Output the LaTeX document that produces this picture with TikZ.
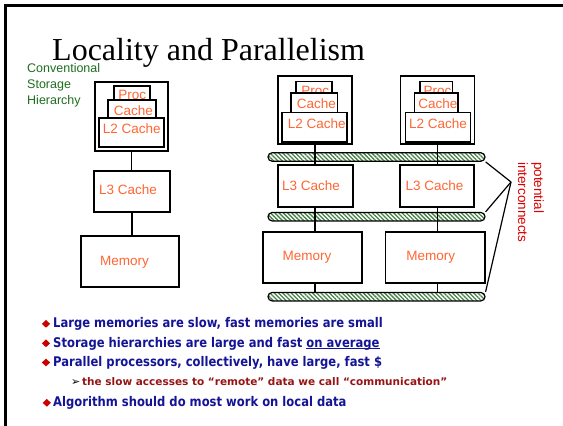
\documentclass[tikz,border=0pt]{standalone}
\usepackage{fontspec}
\setmainfont{Liberation Serif}
\newfontfamily\labelfont{Liberation Sans}
\newfontfamily\pointfont{DejaVu Sans}[FakeStretch=0.87]
\newfontfamily\notefont{DejaVu Sans}
\usetikzlibrary{patterns.meta,shapes.geometric}

\definecolor{cachetext}{RGB}{255,102,51}
\definecolor{hiergreen}{RGB}{30,110,30}
\definecolor{linkred}{RGB}{220,0,0}
\definecolor{pointblue}{RGB}{20,20,150}
\definecolor{bulletred}{RGB}{204,0,0}
\definecolor{notered}{RGB}{150,20,20}
\definecolor{hatch}{RGB}{70,130,70}

% underline sitting just below the baseline
\newcommand\avgline[1]{\leavevmode\setbox0\hbox{#1}\rlap{\rule[-1.9pt]{\wd0}{1.1pt}}\box0}

\begin{document}
\begin{tikzpicture}[x=1pt,y=-1pt,
  cell/.style={draw, line width=1.5pt, fill=white, inner sep=0pt},
  tag/.style={anchor=base, inner sep=0pt, text=cachetext,
    font=\labelfont\fontsize{13.5}{16}\selectfont},
  wire/.style={line width=1.4pt},
  bus/.style={draw, line width=1.2pt, rounded corners=4.2pt,
    minimum width=217pt, minimum height=8.5pt, inner sep=0pt,
    pattern={Lines[angle=-45,distance=3pt,line width=1.3pt]},
    pattern color=hatch},
  pointtext/.style={anchor=base west, inner sep=0pt, text=pointblue,
    font=\pointfont\bfseries\fontsize{13.3}{16}\selectfont},
  notetext/.style={anchor=base west, inner sep=0pt, text=notered,
    font=\notefont\bfseries\fontsize{10.5}{12}\selectfont},
  dia/.style={diamond, fill=bulletred, inner sep=0pt,
    minimum width=8.3pt, minimum height=8pt}]

\fill[white] (0,0) rectangle (563,426);
\useasboundingbox (0,0) rectangle (563,426);

% slide frame
\draw[line width=2.6pt] (5.3,426) -- (5.3,5.3) -- (563,5.3);

% title
\node[anchor=base west, inner sep=0pt, font=\fontsize{32}{36}\selectfont] (title) at (52,60) {Locality and Parallelism};

% conventional hierarchy caption
\node[anchor=north west, inner sep=0pt, align=left, text=hiergreen,
  font=\labelfont\fontsize{12.5}{16.2}\selectfont] (conv) at (27,63) {Conventional\\Storage\\Hierarchy};

% conventional storage hierarchy
\node[cell, minimum width=73pt, minimum height=69pt] (outerL) at (131.5,116.5) {};
\node[cell, minimum width=36pt, minimum height=14pt] (procL) at (132,93) {};
\node[tag] (procLt) at (132.3,99.7) {Proc};
\node[cell, minimum width=48pt, minimum height=18pt] (cacheL) at (132,109) {};
\node[tag] (cacheLt) at (133.5,115) {Cache};
\node[cell, minimum width=65pt, minimum height=29pt] (l2L) at (131.5,132.5) {};
\node[tag] (l2Lt) at (131.7,133.3) {L2 Cache};
\node[cell, minimum width=76pt, minimum height=41pt] (l3L) at (132,191.5) {};
\node[tag] (l3Lt) at (128,194) {L3 Cache};
\node[cell, minimum width=98pt, minimum height=51pt] (memL) at (130,261.5) {};
\node[tag] (memLt) at (124.5,265) {Memory};

\draw[wire] (outerL.south) -- (outerL.south |- l3L.north);
\draw[wire] (l3L.south) -- (l3L.south |- memL.north);

% interconnect buses
\node[bus] (bus1) at (376.5,157) {};
\node[bus] (bus2) at (376.5,216.7) {};
\node[bus] (bus3) at (376.5,296.7) {};

% parallel node A
\node[cell, minimum width=74pt, minimum height=68pt] (outerA) at (315,110) {};
\node[cell, minimum width=36pt, minimum height=11.5pt] (procA) at (314,87.25) {};
\node[tag] (procAt) at (315.3,95.4) {Proc};
\node[cell, minimum width=46.5pt, minimum height=19.5pt] (cacheA) at (314.25,102.75) {};
\node[tag] (cacheAt) at (316.3,108.3) {Cache};
\node[cell, minimum width=65pt, minimum height=29.5pt] (l2A) at (314.5,127.25) {};
\node[tag] (l2At) at (316.7,128.3) {L2 Cache};
\node[cell, minimum width=75pt, minimum height=42pt] (l3A) at (315.5,186) {};
\node[tag] (l3At) at (311,190.7) {L3 Cache};
\node[cell, minimum width=99pt, minimum height=51pt] (memA) at (312.5,257.5) {};
\node[tag] (memAt) at (307,260) {Memory};

% parallel node B
\node[cell, minimum width=74pt, minimum height=68pt] (outerB) at (437.5,110) {};
\node[cell, minimum width=32.3pt, minimum height=11.5pt] (procB) at (436.2,87.25) {};
\node[tag] (procBt) at (437.5,95.4) {Proc};
\node[cell, minimum width=43.7pt, minimum height=19.5pt] (cacheB) at (436.2,102.75) {};
\node[tag] (cacheBt) at (437.8,108.3) {Cache};
\node[cell, minimum width=65pt, minimum height=29.5pt] (l2B) at (438.2,127.25) {};
\node[tag] (l2Bt) at (438,128.3) {L2 Cache};
\node[cell, minimum width=74.3pt, minimum height=42pt] (l3B) at (437,186) {};
\node[tag] (l3Bt) at (434.5,190.7) {L3 Cache};
\node[cell, minimum width=99.3pt, minimum height=51pt] (memB) at (435.3,257.5) {};
\node[tag] (memBt) at (430.7,260) {Memory};

% vertical links crossing the buses
\draw[wire] (outerA.south) -- (outerA.south |- l3A.north);
\draw[wire] (outerA.south |- l3A.south) -- (outerA.south |- memA.north);
\draw[wire] (outerA.south |- memA.south) -- (outerA.south |- bus3.north);
\draw[wire] (outerB.south) -- (outerB.south |- l3B.north);
\draw[wire] (outerB.south |- l3B.south) -- (outerB.south |- memB.north);
\draw[wire] (outerB.south |- memB.south) -- (outerB.south |- bus3.north);

% pointer lines to the bus caption
\coordinate (pi) at (511,182);
\draw[line width=1.2pt] (bus1.south east) -- (pi);
\draw[line width=1.2pt] (bus2.north east) -- (pi);
\draw[line width=1.2pt] (bus3.north east) -- (pi);
\node[rotate=-90, anchor=north west, align=left, inner sep=0pt, text=linkred,
  font=\labelfont\fontsize{13.5}{15.8}\selectfont] (pil) at (544,162) {potential\\interconnects};

% bullet points
\node[dia] (d1) at (46,323.8) {};
\node[pointtext] (p1) at (53,327.3) {Large memories are slow, fast memories are small};
\node[dia] (d2) at (46,343.3) {};
\node[pointtext] (p2) at (53,347.3) {Storage hierarchies are large and fast \avgline{on average}};
\node[dia] (d3) at (46,362.5) {};
\node[pointtext] (p3) at (53,366.7) {Parallel processors, collectively, have large, fast \$};
\node[anchor=base west, inner sep=0pt, font=\notefont\fontsize{11}{12}\selectfont] (a1) at (71,385) {➢};
\node[notetext] (p3a) at (82,385) {the slow accesses to “remote” data we call “communication”};
\node[dia] (d4) at (46.8,402.8) {};
\node[pointtext] (p4) at (53,406) {Algorithm should do most work on local data};

\end{tikzpicture}
\end{document}
